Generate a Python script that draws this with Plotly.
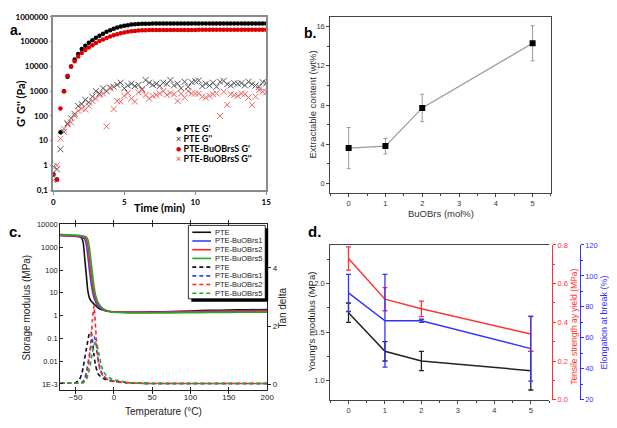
import plotly.graph_objects as go

W, H = 617, 428
OX, OY = 8, 8  # page body margin offset of the rendered figure
def px(x): return (x - OX) / W
def py(y): return 1 - (y - OY) / H

# ---------------- Panel a data (time sweep) ----------------
time_min = [0, 0.25, 0.5, 0.75, 1, 1.25, 1.5, 1.75, 2, 2.25, 2.5, 2.75, 3, 3.25, 3.5, 3.75,
            4, 4.25, 4.5, 4.75, 5, 5.25, 5.5, 5.75, 6, 6.25, 6.5, 6.75, 7, 7.25, 7.5, 7.75,
            8, 8.25, 8.5, 8.75, 9, 9.25, 9.5, 9.75, 10, 10.25, 10.5, 10.75, 11, 11.25, 11.5, 11.75,
            12, 12.25, 12.5, 12.75, 13, 13.25, 13.5, 13.75, 14, 14.25, 14.5, 14.75, 15]
pte_Gp = [0.42, 0.27, 22, 1000, 3800, 10000, 19000, 32000, 50000, 68000, 90000, 115000, 145000,
          175000, 210000, 250000, 290000, 330000, 370000, 405000, 435000, 460000, 490000, 510000,
          520000, 528000, 532000, 534000, 535000, 536000, 537000, 538000, 538000, 539000, 540000,
          540000, 540000, 541000, 541000, 541000, 542000, 542000, 542000, 542000, 543000, 543000,
          543000, 543000, 543000, 544000, 544000, 544000, 544000, 544000, 545000, 545000, 545000,
          545000, 545000, 545000, 545000]
pte_Gpp = [0.9, 0.7, 4.5, 23, 50, 80, 120, 250, 300, 450, 350, 600, 1000, 800, 1300, 1000, 1400,
           1500, 1800, 2200, 1300, 1700, 2000, 1600, 1800, 1200, 2800, 2200, 1800, 2000, 1600, 2200,
           2000, 2800, 1700, 2000, 1300, 2400, 1500, 2300, 2500, 2700, 1600, 2000, 1700, 2200, 1500,
           2400, 2600, 1900, 1700, 2100, 2000, 2100, 1700, 2400, 1900, 1700, 1500, 2300, 2100]
brs5_Gp = [0.45, 0.27, 200, 1000, 4200, 10000, 16000, 25000, 35000, 46000, 58000, 72000, 88000,
           105000, 122000, 140000, 160000, 180000, 200000, 218000, 235000, 250000, 262000, 272000,
           280000, 286000, 290000, 292000, 293000, 294000, 295000, 295000, 296000, 296000, 297000,
           297000, 297000, 298000, 298000, 298000, 298000, 299000, 299000, 299000, 299000, 299000,
           300000, 300000, 300000, 300000, 300000, 300000, 300000, 300000, 300000, 300000, 300000,
           300000, 300000, 300000, 300000]
brs5_Gpp = [0.25, 1.0, 12, 30, 45, 55, 100, 160, 200, 180, 250, 400, 500, 700, 800, 38, 1300, 190,
            400, 380, 650, 850, 500, 380, 900, 1100, 700, 500, 650, 700, 800, 1000, 700, 850, 750,
            400, 800, 550, 1000, 800, 800, 800, 600, 550, 650, 750, 800, 100, 950, 280, 750, 700,
            650, 800, 750, 550, 280, 600, 1100, 950, 900]
a_yticks = [0.1, 1, 10, 100, 1000, 10000, 100000, 1000000]
a_yticktext = ["0,1", "1", "10", "100", "1000", "10000", "100000", "1000000"]
a_legend = ["PTE G'", "PTE G''", "PTE-BuOBrsS G'", "PTE-BuOBrsS G''"]

# ---------------- Panel b data ----------------
buobrs = [0, 1, 2, 5]
extractable = [3.6, 3.8, 7.7, 14.3]
extractable_err = [2.1, 0.8, 1.4, 1.8]

# ---------------- Panel c data (DMA) ----------------
temp_c = [-70, -60, -50, -45, -42, -40, -38, -36, -34, -32, -30, -28, -26, -24, -22, -20, -17, -14,
          -10, -5, 0, 10, 20, 30, 50, 75, 100, 125, 150, 175, 200]
c_names = ["PTE", "PTE-BuOBrs1", "PTE-BuOBrs2", "PTE-BuOBrs5"]
c_colors = ["#111111", "#3344ff", "#ff2222", "#22aa22"]
storage = [
    [3600, 3300, 3100, 2900, 2500, 1500, 300, 60, 12, 6, 4.5, 3.8, 3.2, 2.8, 2.4, 2.1, 1.9, 1.75,
     1.6, 1.5, 1.45, 1.4, 1.4, 1.4, 1.45, 1.5, 1.6, 1.7, 1.75, 1.8, 1.85],
    [3200, 3100, 3000, 2900, 2800, 2600, 2200, 1300, 400, 100, 30, 12, 6, 4, 3, 2.5, 2.1, 1.8,
     1.6, 1.5, 1.45, 1.4, 1.4, 1.4, 1.4, 1.45, 1.5, 1.55, 1.6, 1.65, 1.7],
    [3300, 3200, 3100, 3000, 3000, 2900, 2700, 2200, 1200, 300, 80, 25, 10, 5.5, 3.8, 3, 2.3, 1.9,
     1.6, 1.5, 1.45, 1.4, 1.38, 1.38, 1.4, 1.42, 1.45, 1.5, 1.52, 1.55, 1.6],
    [3600, 3500, 3400, 3300, 3200, 3100, 3000, 2800, 2200, 1000, 250, 70, 20, 8, 5, 3.5, 2.5, 2.0,
     1.7, 1.5, 1.4, 1.35, 1.3, 1.3, 1.3, 1.32, 1.34, 1.36, 1.38, 1.4, 1.4],
]
tan_delta = [
    [0.03, 0.03, 0.05, 0.15, 0.35, 0.6, 0.9, 1.2, 1.5, 1.75, 1.8, 1.5, 1.0, 0.65, 0.45, 0.33, 0.25,
     0.2, 0.15, 0.12, 0.1, 0.07, 0.04, 0.03, 0.02, 0.02, 0.02, 0.02, 0.02, 0.02, 0.02],
    [0.03, 0.03, 0.03, 0.04, 0.06, 0.1, 0.2, 0.4, 0.7, 1.0, 1.3, 1.55, 1.65, 1.5, 1.1, 0.75, 0.45,
     0.3, 0.2, 0.14, 0.1, 0.07, 0.04, 0.03, 0.02, 0.02, 0.02, 0.02, 0.02, 0.02, 0.02],
    [0.03, 0.03, 0.03, 0.03, 0.04, 0.06, 0.12, 0.25, 0.5, 0.9, 1.5, 2.2, 2.7, 2.0, 1.2, 0.7, 0.4,
     0.28, 0.18, 0.13, 0.1, 0.06, 0.04, 0.03, 0.02, 0.02, 0.02, 0.02, 0.02, 0.02, 0.02],
    [0.03, 0.03, 0.03, 0.03, 0.04, 0.05, 0.08, 0.15, 0.3, 0.5, 0.8, 1.1, 1.35, 1.45, 1.35, 1.1, 0.7,
     0.45, 0.3, 0.2, 0.15, 0.1, 0.05, 0.03, 0.02, 0.02, 0.02, 0.02, 0.02, 0.02, 0.02],
]
c_yticks = [0.001, 0.01, 0.1, 1, 10, 100, 1000, 10000]
c_yticktext = ["1E-3", "0.01", "0.1", "1", "10", "100", "1000", "10000"]

# ---------------- Panel d data (tensile) ----------------
young = [1.7, 1.3, 1.2, 1.1]
young_err = [0.1, 0.1, 0.1, 0.2]
tensile = [0.73, 0.52, 0.47, 0.34]
tensile_err = [0.06, 0.06, 0.04, 0.09]
elong = [89, 71, 71, 53]
elong_err = [12, 30, 1, 21]

ARIAL = "Liberation Sans, Arial, sans-serif"
CAL = "Lato, Open Sans, sans-serif"

fig = go.Figure()

# ---- panel a traces
fig.add_trace(go.Scatter(x=time_min, y=pte_Gpp, mode="markers", xaxis="x", yaxis="y",
                         marker=dict(symbol="x-thin", size=6, line=dict(width=1, color="#555555"))))
fig.add_trace(go.Scatter(x=time_min, y=brs5_Gpp, mode="markers", xaxis="x", yaxis="y",
                         marker=dict(symbol="x-thin", size=6, line=dict(width=1, color="#ee6464"))))
fig.add_trace(go.Scatter(x=time_min, y=pte_Gp, mode="markers", xaxis="x", yaxis="y",
                         marker=dict(symbol="circle", size=4.5, color="#000000")))
fig.add_trace(go.Scatter(x=time_min, y=brs5_Gp, mode="markers", xaxis="x", yaxis="y",
                         marker=dict(symbol="circle", size=4.5, color="#dd0000")))

# ---- panel b
fig.add_trace(go.Scatter(x=buobrs, y=extractable, mode="lines+markers", xaxis="x2", yaxis="y2",
                         line=dict(color="#9a9a9a", width=1.2),
                         marker=dict(symbol="square", size=6, color="#000000"),
                         error_y=dict(type="data", array=extractable_err, color="#9a9a9a",
                                      thickness=1, width=2)))

# ---- panel c
for name, col, vals in zip(c_names, c_colors, storage):
    fig.add_trace(go.Scatter(x=temp_c, y=vals, mode="lines", xaxis="x3", yaxis="y3", name=name,
                             line=dict(color=col, width=1.6, shape="spline", smoothing=0.6)))
for name, col, vals in zip(c_names, c_colors, tan_delta):
    fig.add_trace(go.Scatter(x=temp_c, y=vals, mode="lines", xaxis="x3", yaxis="y4", name=name,
                             line=dict(color=col, width=1.6, dash="4px,3px", shape="spline",
                                       smoothing=0.6)))

# ---- panel d
fig.add_trace(go.Scatter(x=buobrs, y=young, mode="lines", xaxis="x4", yaxis="y5",
                         line=dict(color="#222222", width=1.5),
                         error_y=dict(type="data", array=young_err, color="#222222",
                                      thickness=1.3, width=2.5)))
fig.add_trace(go.Scatter(x=buobrs, y=tensile, mode="lines", xaxis="x4", yaxis="y6",
                         line=dict(color="#ff3333", width=1.5),
                         error_y=dict(type="data", array=tensile_err, color="#ff3333",
                                      thickness=1.3, width=2.5)))
fig.add_trace(go.Scatter(x=buobrs, y=elong, mode="lines", xaxis="x4", yaxis="y7",
                         line=dict(color="#3333ff", width=1.5),
                         error_y=dict(type="data", array=elong_err, color="#3333ff",
                                      thickness=1.3, width=2.5)))

tf_a = dict(family=CAL, size=8, color="#000000", weight="bold")
tf_g = dict(family=ARIAL, size=7.5, color="#333333")

layout = dict(
    width=W, height=H, margin=dict(l=0, r=0, t=0, b=0), showlegend=False,
    paper_bgcolor="white", plot_bgcolor="white",
    xaxis=dict(domain=[px(52), px(268)], anchor="y", range=[0, 15], tickvals=[0, 5, 10, 15],
               showline=True, linecolor="#8a8a8a", linewidth=1.5, mirror=True, ticks="outside",
               ticklen=3, tickcolor="#8a8a8a", tickfont=tf_a, showgrid=False, zeroline=False),
    yaxis=dict(domain=[py(190), py(13)], anchor="x", type="log", range=[-1, 6], tickvals=a_yticks,
               ticktext=a_yticktext, showline=True, linecolor="#8a8a8a", linewidth=1.5, mirror=True,
               ticks="outside", ticklen=2, tickcolor="#8a8a8a", tickfont=tf_a, showgrid=False,
               zeroline=False),
    xaxis2=dict(domain=[px(333), px(557)], anchor="y2", range=[-0.5, 5.5], tickvals=[0, 1, 2, 3, 4, 5],
                showline=True, linecolor="#444444", linewidth=1, mirror=True, ticks="outside",
                ticklen=3, tickcolor="#444444", minor=dict(ticks="outside", ticklen=2, dtick=0.5,
                                                         tickcolor="#444444"),
                tickfont=tf_g, showgrid=False, zeroline=False),
    yaxis2=dict(domain=[py(193), py(13)], anchor="x2", range=[-1, 17], tickvals=[0, 4, 8, 12, 16],
                showline=True, linecolor="#444444", linewidth=1, mirror=True, ticks="outside",
                ticklen=3, tickcolor="#444444", minor=dict(ticks="outside", ticklen=2, dtick=2,
                                                         tickcolor="#444444"),
                tickfont=tf_g, showgrid=False, zeroline=False),
    xaxis3=dict(domain=[px(59), px(269)], anchor="y3", range=[-70, 200],
                tickvals=[-50, 0, 50, 100, 150, 200], showline=True, linecolor="#222222",
                linewidth=1, mirror="allticks", ticks="inside", ticklen=3, tickcolor="#222222",
                tickfont=dict(family=ARIAL, size=8, color="#222222"), showgrid=False,
                zeroline=False),
    yaxis3=dict(domain=[py(394), py(225)], anchor="x3", type="log", range=[-3.26, 4],
                tickvals=c_yticks, ticktext=c_yticktext, showline=True, linecolor="#222222",
                linewidth=1, mirror=False, ticks="inside", ticklen=3, tickcolor="#222222",
                tickfont=dict(family=ARIAL, size=7.5, color="#222222"), showgrid=False,
                zeroline=False),
    yaxis4=dict(overlaying="y3", anchor="x3", side="right", range=[-0.2, 5.5], tickvals=[0, 2, 4],
                showline=True, linecolor="#222222", linewidth=1, ticks="outside", ticklen=3,
                tickcolor="#222222", tickfont=dict(family=ARIAL, size=8, color="#222222"),
                showgrid=False, zeroline=False),
    xaxis4=dict(domain=[px(333), px(555)], anchor="y5", range=[-0.5, 5.5],
                tickvals=[0, 1, 2, 3, 4, 5], showline=True, linecolor="#444444", linewidth=1,
                mirror=True, ticks="outside", ticklen=3, tickcolor="#444444",
                minor=dict(ticks="outside", ticklen=2, dtick=0.5, tickcolor="#444444"),
                tickfont=tf_g, showgrid=False, zeroline=False),
    yaxis5=dict(domain=[py(404), py(246)], anchor="x4", range=[0.8, 2.4],
                tickvals=[1.0, 1.5, 2.0], ticktext=["1.0", "1.5", "2.0"], showline=True,
                linecolor="#444444", linewidth=1, ticks="outside", ticklen=3, tickcolor="#444444",
                minor=dict(ticks="outside", ticklen=2, dtick=0.25, tickcolor="#444444"),
                tickfont=tf_g, showgrid=False, zeroline=False),
    yaxis6=dict(overlaying="y5", anchor="free", position=px(558), side="right", range=[0, 0.8],
                tickvals=[0, 0.2, 0.4, 0.6, 0.8], ticktext=["0.0", "0.2", "0.4", "0.6", "0.8"],
                showline=True, linecolor="#ff3333", linewidth=1.2, ticks="outside", ticklen=3,
                tickcolor="#ff3333", minor=dict(ticks="outside", ticklen=2, dtick=0.1,
                                                tickcolor="#ff3333"),
                tickfont=dict(family=ARIAL, size=7.5, color="#ff3333"), showgrid=False,
                zeroline=False),
    yaxis7=dict(overlaying="y5", anchor="free", position=px(586), side="right", range=[20, 120],
                tickvals=[20, 40, 60, 80, 100, 120], showline=True, linecolor="#3333ff",
                linewidth=1.2, ticks="outside", ticklen=3, tickcolor="#3333ff",
                minor=dict(ticks="outside", ticklen=2, dtick=10, tickcolor="#3333ff"),
                tickfont=dict(family=ARIAL, size=7.5, color="#3333ff"), showgrid=False,
                zeroline=False),
)
fig.update_layout(**layout)

ann = []
def A(text, x, y, size, color="#000000", family=ARIAL, bold=False, angle=0, xanchor="center"):
    f = dict(family=family, size=size, color=color)
    if bold:
        f["weight"] = "bold"
    ann.append(dict(text=text, x=px(x), y=py(y), xref="paper", yref="paper", showarrow=False,
                    xanchor=xanchor, yanchor="middle", textangle=angle, font=f))

# panel labels
A("a.", 6, 26, 14, bold=True, xanchor="left")
A("b.", 304, 29, 14, bold=True, xanchor="left")
A("c.", 5, 232, 15, bold=True, xanchor="left")
A("d.", 308, 232, 15, bold=True, xanchor="left")

# axis titles
A("G' G'' (Pa)", 18, 102, 11, family=CAL, bold=True, angle=-90)
A("Time (min)", 160, 208, 11, family=CAL, bold=True)
A("Extractable content (wt%)", 314, 103, 9.5, color="#333333", angle=-90)
A("BuOBrs (mol%)", 445, 214, 9.5, color="#333333")
A("Storage modulus (MPa)", 25, 310, 10, color="#222222", angle=-90)
A("Tan delta", 285, 310, 10, color="#222222", angle=-90)
A("Temperature (°C)", 164, 416, 10, color="#222222")
A("Young's modulus (MPa)", 314, 325, 9.5, color="#222222", angle=-90)
A("Tensile strength ay yield (MPa)", 581, 330, 8.5, color="#ff3333", angle=-90)
A("Elongation at break (%)", 611, 325, 9, color="#3333ff", angle=-90)

# panel a legend
a_sym = ["<span style='color:#000000'>●</span>", "<span style='color:#555555'>×</span>",
         "<span style='color:#dd0000'>●</span>", "<span style='color:#ee6464'>×</span>"]
for i, (s, lab) in enumerate(zip(a_sym, a_legend)):
    A(s + " " + lab, 174, 127 + 10.3 * i, 9, family=CAL, bold=True, xanchor="left")

# panel c legend box (shadow + box) and entries
shapes = [
    dict(type="rect", xref="paper", yref="paper", x0=px(192), x1=px(270), y0=py(304), y1=py(229),
         fillcolor="#000000", line=dict(width=0), layer="above"),
    dict(type="rect", xref="paper", yref="paper", x0=px(189), x1=px(267), y0=py(301), y1=py(226),
         fillcolor="#ffffff", line=dict(color="#000000", width=0.8), layer="above"),
]
entries = [(n, c, "solid") for n, c in zip(c_names, c_colors)] + \
          [(n, c, "4px,3px") for n, c in zip(c_names, c_colors)]
for i, (n, c, d) in enumerate(entries):
    yy = 233 + 8.9 * i
    shapes.append(dict(type="line", xref="paper", yref="paper", x0=px(193), x1=px(212),
                       y0=py(yy), y1=py(yy), line=dict(color=c, width=1.6, dash=d),
                       layer="above"))
    A(n, 214, yy, 7.5, color="#222222", xanchor="left")

fig.update_layout(annotations=ann, shapes=shapes)
fig.write_html("out.html")
